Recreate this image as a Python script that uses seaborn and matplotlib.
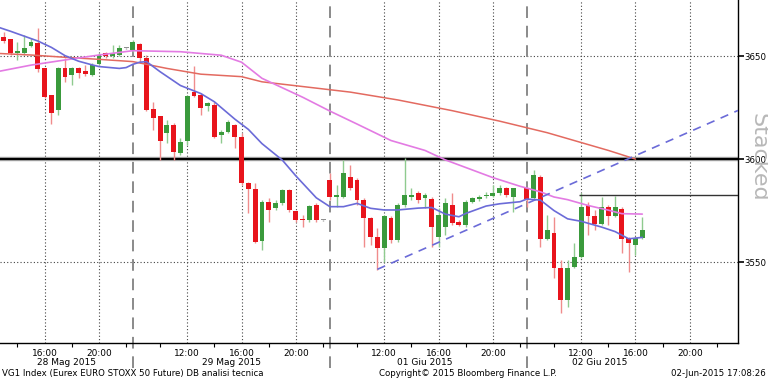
"""Bloomberg-style intraday candlestick chart, VG1 Index (Euro Stoxx 50 future), 28 May - 02 Jun 2015."""

import matplotlib

matplotlib.use("Agg")
import matplotlib.pyplot as plt
import matplotlib.transforms as mtransforms
import numpy as np
import pandas as pd
import seaborn as sns

# 30-minute candles; bar 0 = 28 May 12:30, each session runs 08:00-22:30 (29 bars)
opens = [
    3662.6, 3659.1, 3658.1, 3651.7, 3651.3, 3654.9, 3656.2, 3644.0, 3631.1, 3623.8,
    3644.0, 3640.8, 3644.0, 3642.9, 3640.8, 3646.0, 3651.3, 3650.0, 3650.5, 3653.8,
    3652.9, 3655.8, 3648.9, 3624.2, 3620.9, 3612.5, 3616.5, 3602.8, 3608.9, 3632.4,
    3631.1, 3625.7, 3626.2, 3611.7, 3613.3, 3616.5, 3610.8, 3588.5, 3585.3, 3560.4,
    3579.3, 3576.1, 3578.5, 3585.0, 3574.6, 3570.4, 3570.4, 3577.7, 3570.4, 3589.8,
    3581.7, 3581.7, 3591.4, 3589.8, 3580.1, 3571.2, 3562.3, 3556.7, 3571.2, 3560.7,
    3577.7, 3581.6, 3583.5, 3580.9, 3580.6, 3562.3, 3567.2, 3577.7, 3569.6, 3568.0,
    3579.3, 3580.4, 3582.3, 3582.1, 3583.4, 3585.8, 3581.7, np.nan, 3585.8, 3580.9,
    3591.4, 3561.0, 3564.2, 3547.0, 3531.6, 3547.8, 3552.6, 3577.7, 3572.4, 3568.5,
    3576.9, 3572.4, 3575.6, 3561.5, 3558.3, 3561.5,
]
highs = [
    3664.0, 3661.8, 3658.5, 3657.0, 3660.2, 3658.8, 3663.5, 3644.2, 3631.3, 3644.7,
    3648.9, 3644.8, 3644.5, 3645.6, 3646.5, 3651.3, 3652.1, 3655.4, 3655.4, 3654.0,
    3657.8, 3656.2, 3650.5, 3627.8, 3621.0, 3619.0, 3617.4, 3610.1, 3630.9, 3645.2,
    3631.9, 3627.8, 3627.8, 3614.1, 3619.0, 3617.0, 3612.5, 3589.0, 3588.2, 3580.1,
    3581.0, 3580.1, 3585.3, 3585.3, 3575.0, 3572.8, 3577.7, 3578.5, 3570.6, 3593.1,
    3587.4, 3599.5, 3597.1, 3590.7, 3580.9, 3572.0, 3566.4, 3572.8, 3572.4, 3578.6,
    3600.5, 3585.8, 3584.5, 3583.5, 3581.7, 3576.2, 3580.9, 3583.4, 3570.4, 3580.1,
    3581.7, 3582.5, 3584.1, 3587.4, 3587.4, 3586.6, 3586.0, np.nan, 3586.6, 3594.7,
    3592.3, 3572.8, 3572.0, 3551.0, 3551.0, 3559.1, 3583.4, 3579.3, 3575.3, 3581.7,
    3577.7, 3582.1, 3576.9, 3562.0, 3562.0, 3572.0,
]
lows = [
    3657.8, 3656.2, 3650.5, 3648.1, 3650.5, 3654.5, 3642.4, 3629.6, 3617.0, 3621.4,
    3637.5, 3635.9, 3639.3, 3640.3, 3640.3, 3645.6, 3649.0, 3649.0, 3650.0, 3653.5,
    3652.1, 3646.5, 3623.5, 3614.1, 3599.5, 3607.6, 3599.5, 3602.0, 3606.8, 3630.3,
    3621.4, 3623.3, 3610.2, 3607.6, 3612.5, 3605.2, 3587.4, 3573.6, 3559.1, 3555.9,
    3569.6, 3575.3, 3577.7, 3574.4, 3569.6, 3567.2, 3569.6, 3569.6, 3570.0, 3580.1,
    3576.9, 3580.9, 3585.0, 3577.7, 3557.5, 3558.3, 3546.1, 3550.2, 3559.3, 3559.7,
    3576.7, 3580.1, 3578.7, 3576.2, 3557.5, 3557.5, 3563.1, 3568.0, 3567.3, 3567.2,
    3578.5, 3579.6, 3580.9, 3581.7, 3582.5, 3581.7, 3574.4, np.nan, 3576.9, 3580.1,
    3557.5, 3560.7, 3542.1, 3525.1, 3528.3, 3547.1, 3552.0, 3563.1, 3565.6, 3568.0,
    3568.0, 3572.0, 3554.2, 3545.3, 3553.4, 3561.0,
]
closes = [
    3658.6, 3657.4, 3651.3, 3652.3, 3653.8, 3657.0, 3643.6, 3630.3, 3622.2, 3644.0,
    3639.7, 3644.0, 3641.6, 3641.3, 3645.6, 3650.5, 3650.0, 3651.3, 3653.8, 3653.8,
    3657.0, 3648.9, 3623.8, 3619.8, 3608.8, 3616.5, 3603.5, 3608.4, 3630.7, 3630.7,
    3624.6, 3627.3, 3610.5, 3613.3, 3618.1, 3610.8, 3588.2, 3585.3, 3559.9, 3579.3,
    3575.3, 3578.5, 3585.0, 3575.3, 3570.4, 3570.2, 3577.2, 3570.4, 3570.4, 3581.7,
    3582.5, 3593.1, 3585.8, 3580.1, 3571.2, 3562.3, 3556.7, 3572.4, 3560.7, 3577.7,
    3582.5, 3582.5, 3580.1, 3582.5, 3567.2, 3572.8, 3578.5, 3569.1, 3568.0, 3579.3,
    3580.9, 3581.6, 3582.5, 3583.4, 3585.8, 3582.5, 3585.8, np.nan, 3580.5, 3592.3,
    3561.0, 3565.6, 3547.0, 3531.6, 3547.0, 3552.3, 3576.9, 3572.4, 3568.5, 3576.9,
    3572.4, 3576.9, 3561.0, 3559.1, 3561.5, 3565.6,
]

# moving averages (bar index, price)
fast_ma_bars = [0, 2, 6, 8, 10, 12, 14, 15, 18, 19, 20, 21, 22, 24, 27, 30, 32, 35, 37, 39,
                42, 44, 47, 49, 51, 53, 55, 57, 59, 62, 64, 66, 68, 69, 72, 74, 77, 78, 80,
                82, 84, 86, 89, 91, 93, 95]
fast_ma = [3664.2, 3662.0, 3657.3, 3654.2, 3650.2, 3647.5, 3645.7, 3644.9, 3644.0, 3644.4,
           3646.0, 3647.0, 3647.3, 3642.4, 3635.7, 3631.8, 3627.8, 3619.4, 3614.4, 3607.5,
           3599.5, 3591.8, 3581.2, 3576.9, 3576.9, 3578.5, 3576.1, 3575.3, 3575.3, 3576.2,
           3576.5, 3573.3, 3572.0, 3573.6, 3577.2, 3578.3, 3579.3, 3580.6, 3580.1, 3575.0,
           3571.0, 3569.8, 3567.0, 3564.8, 3561.3, 3562.0]
mid_ma_bars = [0, 5, 10, 15, 20, 27, 33, 36, 39, 45, 49, 53, 58, 63, 66, 73, 77, 80, 82, 84,
               87, 90, 92, 95]
mid_ma = [3642.4, 3645.6, 3648.1, 3650.5, 3652.6, 3652.1, 3650.4, 3647.0, 3639.2, 3630.0,
          3623.3, 3617.0, 3609.0, 3604.2, 3599.6, 3591.0, 3586.8, 3584.1, 3581.6, 3580.3,
          3577.5, 3575.2, 3573.5, 3573.3]
slow_ma_bars = [0, 5, 10, 15, 20, 25, 30, 36, 39, 45, 52, 59, 67, 74, 81, 90, 94]
slow_ma = [3651.3, 3650.5, 3649.4, 3648.4, 3647.3, 3644.0, 3641.2, 3640.0, 3637.5, 3635.2,
           3632.5, 3628.7, 3623.5, 3618.4, 3612.8, 3604.2, 3600.0]

# drawn studies
trend_bars = [56, 109.1]
trend_prices = [3546.5, 3623.6]
level_price = 3582.5
level_start = 85.7
key_level = 3600

time_ticks = [7, 15, 28, 36, 44, 57, 65, 73, 86, 94, 102]
time_labels = ["16:00", "20:00", "12:00", "16:00", "20:00", "12:00", "16:00", "20:00",
               "12:00", "16:00", "20:00"]
minor_ticks = [3, 11, 19, 24, 32, 40, 48, 53, 61, 69, 77, 82, 90, 98, 106]
day_breaks = [20, 49, 78]
date_pos = [10.2, 34.5, 63.0, 88.8]
date_labels = ["28 Mag 2015", "29 Mag 2015", "01 Giu 2015", "02 Giu 2015"]
price_ticks = [3550, 3600, 3650]

UP, DOWN, FLAT = "#3a9a3c", "#e8141c", "#909090"
UP_WICK, DOWN_WICK = "#8fcb8f", "#f08c8c"


def main() -> None:
    sns.set_theme(style="white")
    plt.rcParams["font.family"] = ["DejaVu Sans"]

    df = pd.DataFrame({"open": opens, "high": highs, "low": lows, "close": closes})
    df["bar"] = np.arange(len(df))
    df = df.dropna()
    up = df["close"] > df["open"]
    down = df["close"] < df["open"]
    body_col = np.where(up, UP, np.where(down, DOWN, FLAT))
    wick_col = np.where(up, UP_WICK, np.where(down, DOWN_WICK, FLAT))
    body_low = df[["open", "close"]].min(axis=1)
    body_h = (df["close"] - df["open"]).abs().clip(lower=0.5)

    fig = plt.figure(figsize=(7.68, 3.84), dpi=100)
    ax = fig.add_axes([0.0, 0.1055, 0.961, 0.8945])

    grid_kw = dict(color="#444444", lw=0.8, ls=(0, (1, 2)), zorder=1)
    for p in price_ticks:
        ax.axhline(p, **grid_kw)
    for t in time_ticks:
        ax.axvline(t, **grid_kw)
    ax.axhline(key_level, color="#b0b0b0", lw=3.2, zorder=1.5)
    ax.axhline(key_level, color="black", lw=1.6, zorder=1.6)
    for d in day_breaks:
        ax.axvline(d, ymin=-0.072, ymax=1, color="#8a8a8a", lw=1.4, ls=(0, (6, 4)),
                   clip_on=False, zorder=2)

    ax.vlines(df["bar"], df["low"], df["high"], colors=wick_col, lw=1.0, zorder=3)
    ax.bar(df["bar"], body_h, bottom=body_low, width=0.72, color=body_col, lw=0, zorder=3.5)

    sns.lineplot(x=slow_ma_bars, y=slow_ma, color="#e36a60", lw=1.1, ax=ax,
                 estimator=None, sort=False, zorder=4)
    sns.lineplot(x=mid_ma_bars, y=mid_ma, color="#e37be3", lw=1.2, ax=ax,
                 estimator=None, sort=False, zorder=4)
    sns.lineplot(x=fast_ma_bars, y=fast_ma, color="#6b6bd8", lw=1.2, ax=ax,
                 estimator=None, sort=False, zorder=4.2)
    ax.plot(trend_bars, trend_prices, color="#6b6bd8", lw=1.2, ls=(0, (5, 4)), zorder=4.3)
    ax.hlines(level_price, level_start, 109.1, color="#333333", lw=1.0, zorder=4.3)

    ax.set_xlim(0.43, 109.1)
    ax.set_ylim(3510.5, 3677.2)

    for side in ("left", "top"):
        ax.spines[side].set_visible(False)
    for side in ("right", "bottom"):
        ax.spines[side].set_color("black")
        ax.spines[side].set_linewidth(1.0)

    ax.yaxis.tick_right()
    ax.set_yticks(price_ticks)
    ax.set_yticklabels([str(p) for p in price_ticks])
    ax.tick_params(axis="y", direction="out", length=4, width=1.2, colors="black",
                   labelsize=6.2, pad=0.8)

    ax.set_xticks(time_ticks)
    ax.set_xticklabels(time_labels)
    ax.set_xticks(minor_ticks, minor=True)
    ax.tick_params(axis="x", which="major", direction="out", length=3, width=0.8,
                   labelsize=6.5, pad=1.2, colors="black")
    ax.tick_params(axis="x", which="minor", direction="out", length=3, width=0.8,
                   bottom=True, colors="black")
    ax.set_xlabel("")
    ax.set_ylabel("")

    trans = mtransforms.blended_transform_factory(ax.transData, ax.transAxes)
    for pos, lab in zip(date_pos, date_labels):
        ax.text(pos, -0.055, lab, transform=trans, ha="center", va="center",
                fontsize=6.5, color="black")

    fig.text(0.987, 0.59, "Stacked", rotation=270, ha="center", va="center",
             fontsize=16, color="#b8b8b8", zorder=0)
    fig.text(0.002, 0.028, "VG1 Index (Eurex EURO STOXX 50 Future) DB analisi tecnica",
             ha="left", va="center", fontsize=6.25, color="black")
    fig.text(0.494, 0.028, "Copyright\u00a9 2015 Bloomberg Finance L.P.",
             ha="left", va="center", fontsize=6.25, color="black")
    fig.text(0.997, 0.028, "02-Jun-2015 17:08:26", ha="right", va="center",
             fontsize=6.25, color="black")

    fig.savefig("out.png", dpi=100, facecolor="white")
    plt.close(fig)


if __name__ == "__main__":
    main()
